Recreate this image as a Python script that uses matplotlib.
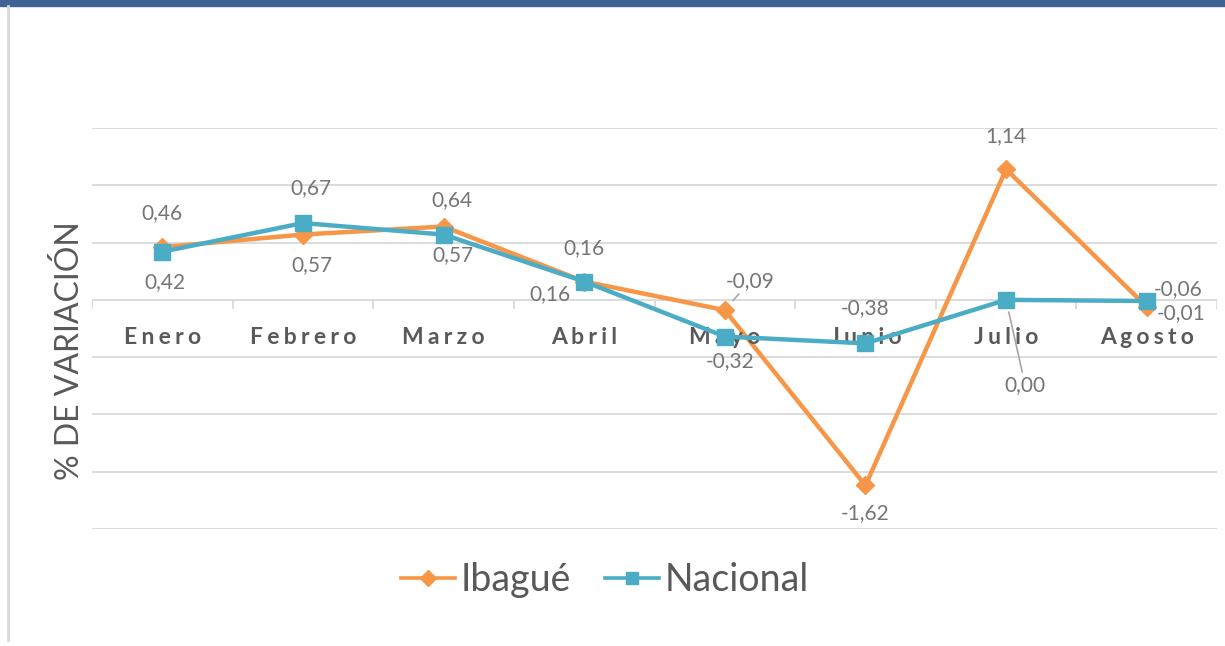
import matplotlib.pyplot as plt
from matplotlib.lines import Line2D

plt.rcParams['font.family'] = ['Lato', 'DejaVu Sans']

meses = ['Enero', 'Febrero', 'Marzo', 'Abril', 'Mayo', 'Junio', 'Julio', 'Agosto']
ibague = [0.46, 0.57, 0.64, 0.16, -0.09, -1.62, 1.14, -0.06]
nacional = [0.42, 0.67, 0.57, 0.16, -0.32, -0.38, 0.00, -0.01]

# label offsets in pixels (dx, dy), leader line flag
off_ibague = [(0, 34), (9, -31), (8, 26), (0, 33), (25, 29, True), (0, -28), (0, 33), (31, 18)]
off_nacional = [(3, -30), (8, 35), (9, -21), (-34, -13), (5, -25), (0, 35), (19, -85, True), (34, -12)]

col_ib = '#f79646'
col_na = '#4bacc6'
gris = '#595959'
grid = '#d9d9d9'

fig = plt.figure(figsize=(12.25, 6.46), dpi=100)
ax = fig.add_axes([0.0751, 0.1811, 0.9184, 0.6208])

x = list(range(len(meses)))
ax.plot(x, ibague, color=col_ib, lw=3.2, marker='D', ms=9, zorder=3)
ax.plot(x, nacional, color=col_na, lw=3.2, marker='s', ms=11, zorder=4)

ax.set_xlim(-0.5, len(meses) - 0.5)
ax.set_ylim(-2.0, 1.5)
for y in [-2.0, -1.5, -1.0, -0.5, 0.0, 0.5, 1.0, 1.5]:
    ax.axhline(y, color=grid, lw=1.3, zorder=1)
for b in range(len(meses) + 1):
    ax.plot([b - 0.5, b - 0.5], [0, -0.07], color=grid, lw=1.3, zorder=1)

for s in ax.spines.values():
    s.set_visible(False)
ax.set_xticks([])
ax.set_yticks([])

for i, m in enumerate(meses):
    ax.text(i, -0.33, '\u2009\u200a'.join(m), ha='center', va='center', fontsize=16.5,
            fontweight='bold', color=gris)


def etiquetas(vals, offs):
    for i, (v, o) in enumerate(zip(vals, offs)):
        txt = f'{v:.2f}'.replace('.', ',')
        arrow = None
        if len(o) == 3:
            arrow = dict(arrowstyle='-', color='#a6a6a6', lw=1.2, shrinkA=0, shrinkB=9)
        ax.annotate(txt, (i, v), xytext=(o[0], o[1]), textcoords='offset pixels',
                    ha='center', va='center', fontsize=15, color='#757575',
                    arrowprops=arrow, zorder=5)


etiquetas(ibague, off_ibague)
etiquetas(nacional, off_nacional)

fig.text(0.057, 0.458, '% DE VARIACIÓN', rotation=90, ha='center', va='center',
         fontsize=23, color=gris)

handles = [Line2D([], [], color=col_ib, lw=2.6, marker='D', ms=8),
           Line2D([], [], color=col_na, lw=2.6, marker='s', ms=9)]
fig.legend(handles, ['Ibagué', 'Nacional'], loc='center', bbox_to_anchor=(0.494, 0.102),
           ncol=2, frameon=False, fontsize=27, labelcolor=gris, handlelength=1.45,
           handletextpad=0.15, columnspacing=0.9)

# frame decorations
fig.patches.append(plt.Rectangle((0, 0.99), 1, 0.01, transform=fig.transFigure,
                                 color='#3f6397', zorder=0))
fig.lines.append(Line2D([0.0065, 0.0065], [0.01, 0.99], transform=fig.transFigure,
                        color='#d9d9d9', lw=2))

fig.savefig('out.png', dpi=100)
